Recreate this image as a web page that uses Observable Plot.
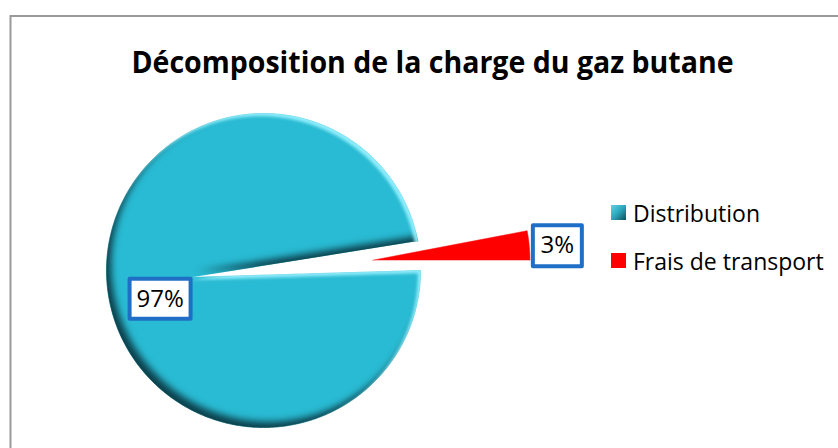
<!DOCTYPE html>
<html><head><meta charset="utf-8">
<script src="https://cdn.jsdelivr.net/npm/d3@7"></script>
<script src="https://cdn.jsdelivr.net/npm/@observablehq/plot@0.6"></script>
<style>
html,body{margin:0;padding:0;background:#fff;overflow:hidden;}
#chart{position:relative;width:838px;height:448px;}
.lg-swatches{position:absolute;left:611px;top:188.5px;width:226px;margin:0;font:23px "Open Sans",sans-serif;color:#000;}
.lg-swatch{height:48px;padding-bottom:0;display:flex;align-items:center;}
.lg-swatch > svg{margin-right:7px;}
</style></head><body><div id="chart"></div>
<script>
// ---- data ----
const title = "Décomposition de la charge du gaz butane";
const categories = ["Distribution", "Frais de transport"];
const values = [97, 3];
const valueLabels = ["97%", "3%"];
const colors = ["#29bbd3", "#ff0000"];

// ---- layout ----
const W = 838, H = 448;
const cx = 263, cy = 270, R = 157;          // pie centre / radius (px)
const explode = [0, 0.70];                    // slice explosion (fraction of R)
const hub = [0.46, 0];                        // apex pulled along mid-angle (perspective look)
const labelR = [0.70, 1.18];                  // label distance (fraction of R)
const labelNudge = [[6, 18], [0, 3]];         // px nudges
const boxSize = [[61, 40], [49, 41]];

const arcs = d3.pie().sort(null)
  .startAngle(Math.PI / 2).endAngle(Math.PI / 2 + 2 * Math.PI)(values);

const pts = [];
const labs = [];
arcs.forEach((a, i) => {
  const cat = categories[i];
  const mid = (a.startAngle + a.endAngle) / 2;
  const ox = explode[i] * Math.sin(mid), oy = explode[i] * Math.cos(mid);
  pts.push({cat, x: ox + hub[i] * Math.sin(mid), y: oy + hub[i] * Math.cos(mid)});
  const n = Math.max(4, Math.ceil((a.endAngle - a.startAngle) / (Math.PI / 360)));
  for (let k = 0; k <= n; k++) {
    const t = a.startAngle + (a.endAngle - a.startAngle) * k / n;
    pts.push({cat, x: ox + Math.sin(t), y: oy + Math.cos(t)});
  }
  labs.push({
    cat, text: valueLabels[i], i,
    x: ox + labelR[i] * Math.sin(mid) + labelNudge[i][0] / R,
    y: oy + labelR[i] * Math.cos(mid) - labelNudge[i][1] / R
  });
});

function boxSymbol(w, h) {
  return {draw(ctx) { ctx.moveTo(-w/2, -h/2); ctx.lineTo(w/2, -h/2); ctx.lineTo(w/2, h/2); ctx.lineTo(-w/2, h/2); ctx.closePath(); }};
}

const sliceMarks = categories.map((c, i) =>
  Plot.line(pts.filter(d => d.cat === c), {x: "x", y: "y", fill: colors[i], stroke: colors[i], strokeWidth: 0.5})
);
const boxMarks = labs.map(l =>
  Plot.dot([l], {x: "x", y: "y", symbol: boxSymbol(boxSize[l.i][0], boxSize[l.i][1]), r: 5,
    fill: "white", stroke: "#1f6fc6", strokeWidth: 4, strokeLinejoin: "round"})
);

const svg = Plot.plot({
  width: W, height: H, margin: 0,
  x: {domain: [-cx / R, (W - cx) / R], axis: null},
  y: {domain: [(cy - H) / R, cy / R], axis: null},
  marks: [
    Plot.frame({stroke: "#9a9a9a", strokeWidth: 2, insetLeft: 10, insetTop: 15.5, insetRight: -10, insetBottom: -10}),
    ...sliceMarks,
    ...boxMarks,
    Plot.text(labs, {x: "x", y: "y", text: "text", fontSize: 24, fontFamily: "Open Sans", fill: "#000", textAnchor: "middle", lineAnchor: "middle"}),
    Plot.text([title], {text: d => d, frameAnchor: "top", dx: 13, dy: 63, lineAnchor: "middle", fontSize: 31, fontWeight: "bold", fontFamily: "Open Sans", fill: "#000"})
  ]
});

const s = d3.select(svg);
s.insert("defs", ":first-child").html(`
<filter id="bevel" x="-10%" y="-10%" width="120%" height="120%" color-interpolation-filters="sRGB">
  <feOffset in="SourceAlpha" dx="5" dy="-6" result="o1"/>
  <feGaussianBlur in="o1" stdDeviation="3.5" result="b1"/>
  <feComposite in="SourceAlpha" in2="b1" operator="out" result="e1"/>
  <feFlood flood-color="#0a3a44" flood-opacity="0.95"/>
  <feComposite in2="e1" operator="in" result="shadow"/>
  <feOffset in="SourceAlpha" dx="-3" dy="3" result="o2"/>
  <feGaussianBlur in="o2" stdDeviation="1.5" result="b2"/>
  <feComposite in="SourceAlpha" in2="b2" operator="out" result="e2"/>
  <feFlood flood-color="#9af2ff" flood-opacity="0.9"/>
  <feComposite in2="e2" operator="in" result="hl"/>
  <feMerge><feMergeNode in="SourceGraphic"/><feMergeNode in="shadow"/><feMergeNode in="hl"/></feMerge>
</filter>
<linearGradient id="swGrad" x1="0" y1="0" x2="1" y2="1">
  <stop offset="0" stop-color="#5fd3e4"/><stop offset="0.5" stop-color="#2aa6bb"/><stop offset="1" stop-color="#114f5a"/>
</linearGradient>`);
s.select(`g[fill="${colors[0]}"]`).attr("filter", "url(#bevel)");
const textGroups = svg.querySelectorAll('g[aria-label="text"]');
const titleText = textGroups[textGroups.length - 1].querySelector("text");
titleText.setAttribute("textLength", 602);
titleText.setAttribute("lengthAdjust", "spacingAndGlyphs");

const chart = document.getElementById("chart");
chart.appendChild(svg);
const legend = Plot.legend({
  color: {type: "ordinal", domain: categories, range: ["url(#swGrad)", colors[1]]},
  legend: "swatches", columns: 1, swatchSize: 15, className: "lg"
});
chart.appendChild(legend);
</script></body></html>
